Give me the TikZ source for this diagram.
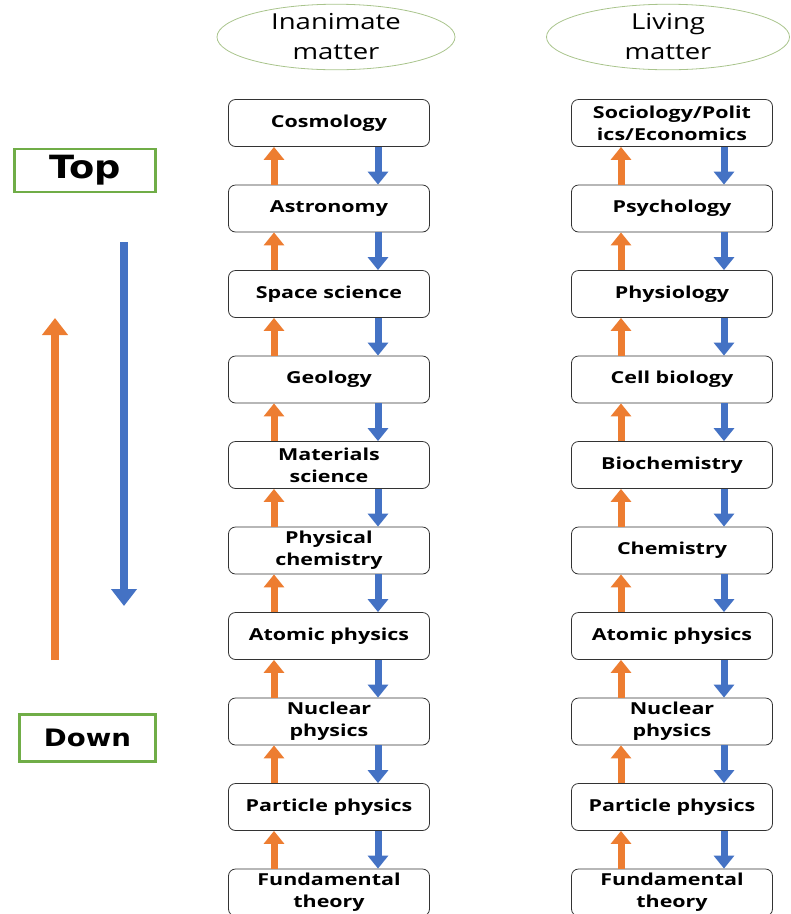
\documentclass[tikz,border=0pt]{standalone}
\usepackage{fontspec}
\setmainfont{Open Sans}
\newfontfamily\boxfont[FakeStretch=1.3]{Open Sans}
\newfontfamily\kindfont[FakeStretch=1.25]{Open Sans}
\newfontfamily\tagfont[FakeStretch=1.15]{DejaVu Sans}
\usetikzlibrary{shapes.geometric,arrows.meta}

\definecolor{upcol}{RGB}{237,125,49}
\definecolor{downcol}{RGB}{68,114,196}
\definecolor{tagcol}{RGB}{112,173,71}
\definecolor{ellcol}{RGB}{169,196,140}

\tikzset{
    field/.style={rectangle, rounded corners=7pt, draw=black!80, line width=0.8pt,
        minimum width=201pt, minimum height=47pt, align=center,
        font=\boxfont\fontsize{16.5}{22}\selectfont\bfseries},
    kind/.style={ellipse, draw=ellcol, line width=0.8pt, minimum width=238pt,
        minimum height=62pt, inner sep=0pt, align=center,
        font=\kindfont\fontsize{22}{30}\selectfont},
    tag/.style={rectangle, draw=tagcol, line width=2.5pt, inner sep=0pt},
    uparr/.style={upcol, line width=7pt, -{Triangle[width=20pt,length=13pt]}},
    downarr/.style={downcol, line width=7pt, -{Triangle[width=20pt,length=13pt]}},
    bigup/.style={upcol, line width=8.5pt, -{Triangle[width=25pt,length=17pt]}},
    bigdown/.style={downcol, line width=8.5pt, -{Triangle[width=25pt,length=17pt]}}
}

\begin{document}
\begin{tikzpicture}[x=1pt, y=-1pt]
        \useasboundingbox (0,0) rectangle (791,914);

        % the two kinds of matter
        \node[kind] (inan) at (336,37) {Inanimate\\matter};
        \node[kind, minimum width=243pt] (living) at (668,37) {Living\\matter};

        % inanimate column
        \node[field] (cos) at (329,123) {Cosmology};
        \node[field] (ast) at (329,208.5) {Astronomy};
        \node[field] (spa) at (329,294) {Space science};
        \node[field] (geo) at (329,379.5) {Geology};
        \node[field] (mat) at (329,465) {Materials\\science};
        \node[field] (pch) at (329,550.5) {Physical\\chemistry};
        \node[field] (atl) at (329,636) {Atomic physics};
        \node[field] (nul) at (329,721.5) {Nuclear\\physics};
        \node[field] (pal) at (329,807) {Particle physics};
        \node[field] (ful) at (329,892.5) {Fundamental\\theory};

        % living column
        \node[field] (soc) at (672,123) {Sociology/Polit\\ics/Economics};
        \node[field] (psy) at (672,208.5) {Psychology};
        \node[field] (phy) at (672,294) {Physiology};
        \node[field] (cel) at (672,379.5) {Cell biology};
        \node[field] (bio) at (672,465) {Biochemistry};
        \node[field] (che) at (672,550.5) {Chemistry};
        \node[field] (atr) at (672,636) {Atomic physics};
        \node[field] (nur) at (672,721.5) {Nuclear\\physics};
        \node[field] (par) at (672,807) {Particle physics};
        \node[field] (fur) at (672,892.5) {Fundamental\\theory};

        % up and down between levels
        \foreach \a/\b in {cos/ast, ast/spa, spa/geo, geo/mat, mat/pch, pch/atl, atl/nul, nul/pal, pal/ful} {
            \draw[uparr] ([xshift=-55pt]\b.north) -- ([xshift=-55pt]\a.south);
            \draw[downarr] ([xshift=49pt]\a.south) -- ([xshift=49pt]\b.north);
        }
        \foreach \a/\b in {soc/psy, psy/phy, phy/cel, cel/bio, bio/che, che/atr, atr/nur, nur/par, par/fur} {
            \draw[uparr] ([xshift=-51pt]\b.north) -- ([xshift=-51pt]\a.south);
            \draw[downarr] ([xshift=52pt]\a.south) -- ([xshift=52pt]\b.north);
        }

        % top / down labels
        \node[tag, minimum width=141pt, minimum height=43pt, font=\tagfont\fontsize{32}{32}\selectfont\bfseries] (top) at (85,170.5) {Top};
        \node[tag, minimum width=136pt, minimum height=47pt, font=\tagfont\fontsize{24}{24}\selectfont\bfseries] (down) at (87.5,738) {Down};

        \coordinate (upfrom) at (55,660);
        \coordinate (upto) at (55,318);
        \coordinate (downfrom) at (124,242);
        \coordinate (downto) at (124,606);
        \draw[bigup] (upfrom) -- (upto);
        \draw[bigdown] (downfrom) -- (downto);
\end{tikzpicture}
\end{document}
